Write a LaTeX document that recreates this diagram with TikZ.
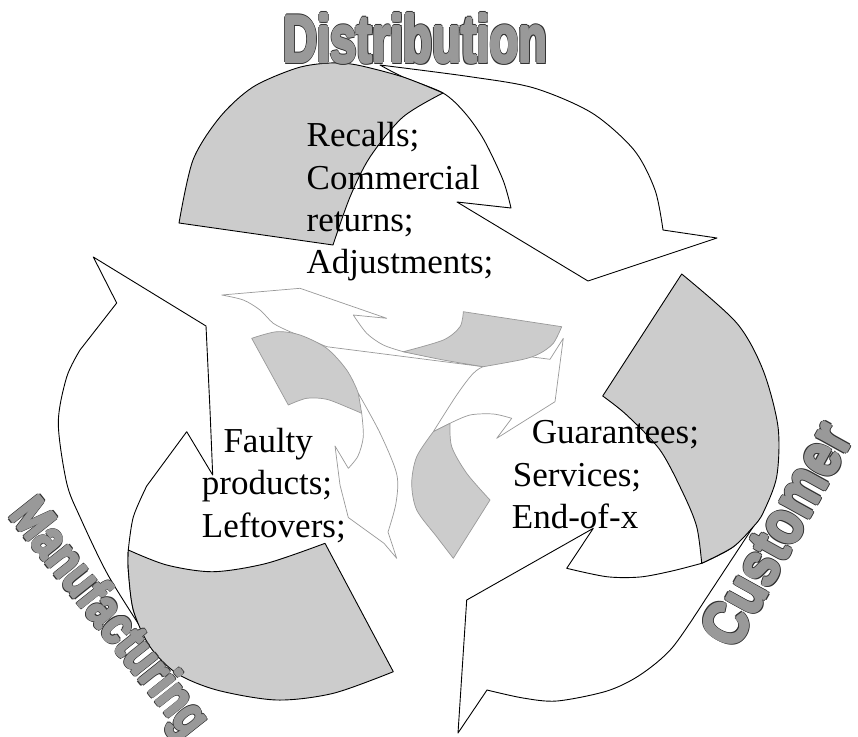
\documentclass[tikz,border=0pt]{standalone}
\usepackage{fontspec}
\usepackage{graphicx}
\setmainfont{Liberation Serif}
\newfontfamily\wafont{Liberation Sans}
\definecolor{backgray}{HTML}{CCCCCC}
\definecolor{wafill}{HTML}{999999}
\definecolor{waedge}{HTML}{333333}
\definecolor{symline}{HTML}{999999}
\newcommand\wacopy[4]{\rlap{\kern#1\raisebox{#2}{\textcolor{#3}{#4}}}}
\newcommand\waword[1]{\leavevmode
  \wacopy{2.4pt}{0pt}{waedge}{#1}\wacopy{-2.4pt}{0pt}{waedge}{#1}%
  \wacopy{0pt}{2.4pt}{waedge}{#1}\wacopy{0pt}{-2.4pt}{waedge}{#1}%
  \wacopy{1.7pt}{1.7pt}{waedge}{#1}\wacopy{-1.7pt}{1.7pt}{waedge}{#1}%
  \wacopy{1.7pt}{-1.7pt}{waedge}{#1}\wacopy{-1.7pt}{-1.7pt}{waedge}{#1}%
  \wacopy{1.4pt}{0pt}{wafill}{#1}\wacopy{-1.4pt}{0pt}{wafill}{#1}%
  \wacopy{0pt}{1.4pt}{wafill}{#1}\wacopy{0pt}{-1.4pt}{wafill}{#1}%
  \wacopy{1pt}{1pt}{wafill}{#1}\wacopy{-1pt}{1pt}{wafill}{#1}%
  \wacopy{1pt}{-1pt}{wafill}{#1}\wacopy{-1pt}{-1pt}{wafill}{#1}%
  \textcolor{wafill}{#1}}
\tikzset{
  bigline/.style={draw=black, line width=0.9pt, line join=round},
  frontpart/.style={bigline, fill=white},
  backpart/.style={bigline, fill=backgray},
  symfront/.style={draw=symline, line width=0.7pt, fill=white, line join=round},
  symback/.style={draw=symline, line width=0.7pt, fill=backgray, line join=round},
  itemtext/.style={inner sep=0pt, anchor=base west, font=\fontsize{35}{42.5}\selectfont},
  wordart/.style={inner sep=0pt, font=\wafont\bfseries\fontsize{60}{60}\selectfont},
}
\begin{document}
\begin{tikzpicture}[x=1pt,y=-1pt]
\useasboundingbox[fill=white] (0,0) rectangle (858,736);

% ---- Distribution arrow ----
\path[frontpart] (380,65) -- plot[smooth] coordinates {(380,65) (470,76.7) (534,88) (592,113) (634,150) (655,190) (663,230)}
  -- (717,238) -- (588,281) -- (457,202) -- (511,208)
  -- plot[smooth] coordinates {(511,208) (503,180) (484,140) (465,113) (443,93) (403,77) (380,65)} -- cycle;
\path[backpart] (333,245) -- (179,223)
  -- plot[smooth] coordinates {(179,223) (193,160) (220,117) (253,87) (297,68) (330,63) (357,65) (403,77) (443,93)}
  -- plot[smooth] coordinates {(443,93) (403,117) (370,157) (350,197) (333,245)} -- cycle;

% ---- Customer arrow ----
\path[frontpart] (757,521) -- (705,600)
  -- plot[smooth] coordinates {(705,600) (672,648) (640,675) (607,691) (557,701) (523,698) (487,690)}
  -- (458,733) -- (466.7,600) -- (593.3,528.3) -- (566.7,568.3)
  -- plot[smooth] coordinates {(566.7,568.3) (606.7,576.7) (640,577) (672,571) (701.7,563.3)}
  -- plot[smooth] coordinates {(701.7,563.3) (733,547) (757,521)} -- cycle;
\path[backpart] (602.7,396) -- (681.7,274)
  -- plot[smooth] coordinates {(681.7,274) (736.7,323) (763,370) (778,426.7) (776.7,476.7) (763,513) (753,527) (733,547) (701.7,563.3)}
  -- plot[smooth] coordinates {(701.7,563.3) (696.7,526.7) (683,493) (660,450) (626.7,415) (602.7,396)} -- cycle;

% ---- Manufacturing arrow ----
\path[frontpart] (145,634)
  -- plot[smooth] coordinates {(145,634) (108,575) (80,517) (66.7,483) (58.3,423) (66.7,377) (80,350)}
  -- (116.7,303) -- (93.3,257) -- (206,326) -- (210,410) -- (212.7,475) -- (186.7,431.7) -- (146.7,486)
  -- plot[smooth] coordinates {(146.7,486) (133.3,517) (128.3,550)}
  -- plot[smooth] coordinates {(128.3,550) (128.3,570) (133.3,610) (145,634)} -- cycle;
\path[backpart] (325,543.3) -- (393.3,671.7)
  -- plot[smooth] coordinates {(393.3,671.7) (333.3,693.3) (276.7,700) (216.7,690) (176.7,673.3) (150,646.7) (133.3,610) (128.3,570) (128.3,550)}
  -- plot[smooth] coordinates {(128.3,550) (166.7,565) (213.3,571.7) (266.7,563.3) (325,543.3)} -- cycle;

% ---- small central symbol ----
\path[symfront] (221.7,295) -- (300,288.3) -- (386.7,318.3) -- (353.3,315)
  -- plot[smooth] coordinates {(353.3,315) (366.7,333.3) (383.3,345) (403.3,351.7)}
  -- (483.3,366.7) -- (326.7,346.7) -- (290,331.7)
  -- plot[smooth] coordinates {(290,331.7) (273.3,323.3) (260,310) (243.3,300) (221.7,295)} -- cycle;
\path[symfront] (433.3,431.7)
  -- plot[smooth] coordinates {(433.3,431.7) (456.7,395) (473.3,373.3) (486.7,365) (510,358.3) (530,356.7)}
  -- (550,359.3) -- (563.3,338.3) -- (555,401.7) -- (496.7,438.3) -- (511.7,418.3)
  -- plot[smooth] coordinates {(511.7,418.3) (493.3,414) (470,415) (450,423.3)} -- cycle;
\path[symback] (403.3,351.7)
  -- plot[smooth] coordinates {(403.3,351.7) (443.3,340) (460,326.7) (463.3,311.7)}
  -- (561.7,326.7)
  -- plot[smooth] coordinates {(561.7,326.7) (553.3,343.3) (540,353.3) (523.3,359.3) (483.3,366.7)}
  -- plot[smooth] coordinates {(483.3,366.7) (443.3,360) (403.3,351.7)} -- cycle;
\path[symback] (288.3,405) -- (251.7,338.3)
  -- plot[smooth] coordinates {(251.7,338.3) (276.7,331.7) (300,335) (326.7,348.3) (346.7,370) (358.3,393.3) (361.7,413.3)}
  -- plot[smooth] coordinates {(361.7,413.3) (350,408.3) (326.7,399.3) (306.7,398.3) (288.3,405)} -- cycle;
\path[symfront] (358.3,393.3)
  -- plot[smooth] coordinates {(358.3,393.3) (380,433) (396.7,474) (396,503) (388,532)}
  -- (396.7,558.3) -- (384,543.3) -- (348.3,517.5) -- (340,485) -- (335,446) -- (348.3,468.3)
  -- plot[smooth] coordinates {(348.3,468.3) (358,456) (363.3,436.7) (361.7,413.3)} -- cycle;
\path[symback] (453.3,558.3)
  -- plot[smooth] coordinates {(453.3,558.3) (436.7,536.7) (416.7,510) (411.7,483.3) (416.7,456.7) (433.3,431.7)}
  -- (450,423.3)
  -- plot[smooth] coordinates {(450,423.3) (451.7,446.7) (466.7,473.3) (490,500)} -- cycle;

% ---- texts ----
\node[itemtext] (t1) at (306.5,146.5) {Recalls;};
\node[itemtext] (t2) at (306.5,189) {Commercial};
\node[itemtext] (t3) at (306.5,231.5) {returns;};
\node[itemtext] (t4) at (306.5,273.5) {Adjustments;};
\node[itemtext] (f1) at (223.3,452) {Faulty};
\node[itemtext] (f2) at (201.7,494.5) {products;};
\node[itemtext] (f3) at (201.7,537) {Leftovers;};
\node[itemtext] (g1) at (531.7,443.3) {Guarantees;};
\node[itemtext] (g2) at (512.7,486) {Services;};
\node[itemtext] (g3) at (511.7,528.5) {End-of-x};

% ---- word art labels ----
\node[wordart] (dist) at (415.5,38.5) {\resizebox*{264pt}{54pt}{\waword{Distribution}}};
\node[wordart, rotate=61] (cust) at (776,534) {\resizebox*{244pt}{49pt}{\waword{Customer}}};
\node[wordart, rotate=-51.5] (manu) at (108,619) {\resizebox*{285pt}{54pt}{\waword{Manufacturing}}};
\end{tikzpicture}
\end{document}
